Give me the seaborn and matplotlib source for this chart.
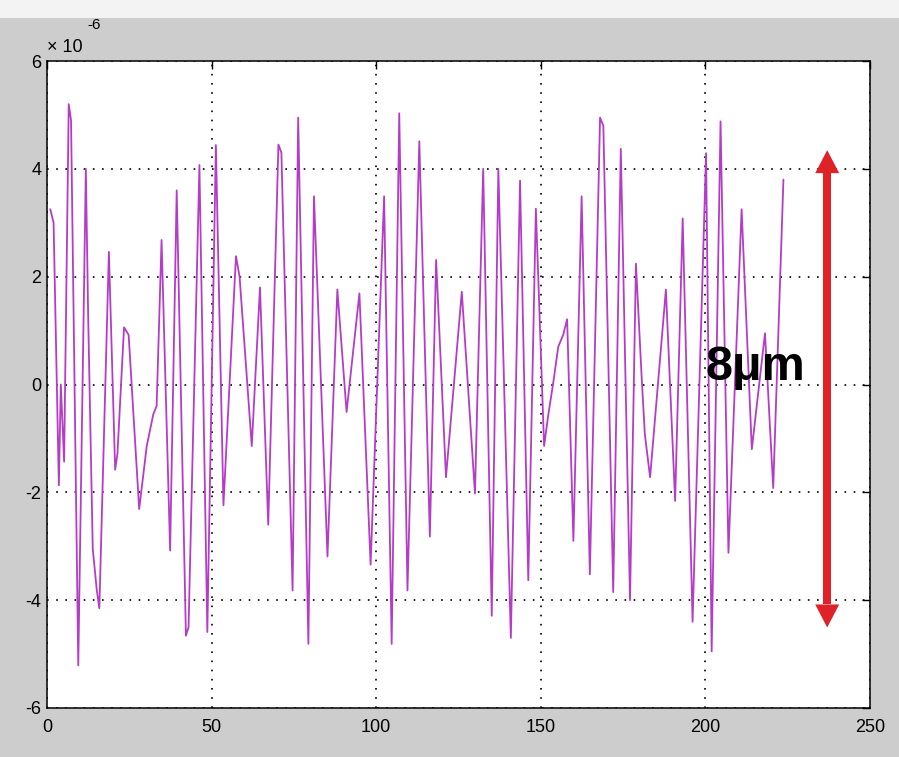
import matplotlib
matplotlib.use("Agg")
import matplotlib.pyplot as plt
from matplotlib.patches import Polygon, Rectangle
import pandas as pd
import seaborn as sns

# Surface displacement trace (units of 1e-6) along the sample index
sample_pos = [
    1.0, 2.0, 3.6, 4.2, 5.2, 6.6, 7.3, 9.5, 11.8, 12.5, 13.9, 15.1, 15.9,
    18.8, 20.7, 21.4, 23.4, 24.8, 28.0, 29.3, 30.3, 32.3, 33.3, 34.8,
    37.4, 39.4, 42.2, 43.0, 46.3, 48.7, 51.3, 53.6, 57.4, 58.5, 62.2,
    64.7, 67.2, 70.3, 71.2, 74.6, 76.3, 79.4, 81.1, 85.2, 88.2, 91.0,
    94.9, 98.3, 102.4, 104.7, 107.0, 109.5, 113.1, 116.3, 118.2, 121.2,
    126.0, 130.0, 132.5, 135.1, 137.1, 140.9, 143.7, 146.2, 148.5, 151.0,
    152.3, 153.8, 155.3, 156.8, 158.0, 159.9, 162.4, 164.9, 168.0, 169.0,
    172.0, 174.3, 177.1, 178.9, 180.6, 181.6, 183.2, 188.0, 190.8, 193.1,
    196.1, 200.2, 201.9, 204.6, 207.0, 211.0, 214.1, 218.1, 220.6, 223.7,
]
displacement_um = [
    3.25, 3.0, -1.87, 0.0, -1.43, 5.2, 4.9, -5.21, 4.0, 1.28, -3.05, -3.8, -4.15,
    2.46, -1.58, -1.28, 1.06, 0.92, -2.31, -1.65, -1.14, -0.55, -0.4, 2.68,
    -3.08, 3.6, -4.66, -4.5, 4.07, -4.59, 4.44, -2.24, 2.38, 2.0, -1.14,
    1.8, -2.6, 4.45, 4.3, -3.82, 4.95, -4.81, 3.49, -3.19, 1.76, -0.51,
    1.69, -3.34, 3.49, -4.81, 5.03, -3.82, 4.51, -2.82, 2.31, -1.72,
    1.72, -2.02, 4.0, -4.29, 4.0, -4.7, 3.78, -3.63, 3.26, -1.14,
    -0.55, 0.04, 0.7, 0.92, 1.21, -2.9, 3.49, -3.52, 4.95, 4.8,
    -3.85, 4.37, -4.0, 2.24, 0.18, -0.92, -1.72, 1.76, -2.16, 3.08,
    -4.4, 4.29, -4.95, 4.88, -3.12, 3.25, -1.2, 0.95, -1.92, 3.8,
]

x_ticks = [0, 50, 100, 150, 200, 250]
y_ticks = [-6, -4, -2, 0, 2, 4, 6]

# Peak-to-peak span marker
span_label = "8\u03bcm"
span_um = 8.0
span_centre = -0.08
span_x = 237

sns.set_theme(style="white")
plt.rcParams["font.family"] = ["Liberation Sans", "DejaVu Sans"]

W, H = 899, 757
fig = plt.figure(figsize=(W / 100, H / 100), dpi=100, facecolor="#cdcdcd")
fig.add_artist(Rectangle((0, 1 - 18 / H), 1, 18 / H, transform=fig.transFigure,
                         facecolor="#f3f3f3", edgecolor="none", zorder=0))

ax = fig.add_axes([47 / W, 49 / H, 823 / W, 647 / H])
ax.set_facecolor("white")

df = pd.DataFrame({"pos": sample_pos, "disp": displacement_um})
sns.lineplot(data=df, x="pos", y="disp", sort=False, estimator=None,
             color="#b43cc8", linewidth=1.3, ax=ax, zorder=3)

ax.set_xlim(0, 250)
ax.set_ylim(-6, 6)
ax.set_xticks(x_ticks)
ax.set_yticks(y_ticks)
ax.set_xticklabels([str(t) for t in x_ticks])
ax.set_yticklabels([str(t) for t in y_ticks])
ax.set_xlabel("")
ax.set_ylabel("")

ax.grid(True, color="black", linestyle=(0, (1, 4.5)), linewidth=1.2, zorder=1)
ax.tick_params(direction="in", length=6, width=1, top=True, right=True,
               labelsize=13, colors="black")
ax.tick_params(axis="x", pad=8)
ax.tick_params(axis="y", pad=4)
for s in ax.spines.values():
    s.set_visible(True)
    s.set_color("black")
    s.set_linewidth(1.1)

# Exponent marker for the y axis
ax.text(0.0, 1.014, "\u00d7 10", transform=ax.transAxes, fontsize=13,
        ha="left", va="baseline", color="black")
ax.text(0.049, 1.049, "-6", transform=ax.transAxes, fontsize=11,
        ha="left", va="baseline", color="black")

# Double arrow: head bases at the span ends, sharp triangular heads beyond
arrow_red = "#de2228"
px_per_unit_y = ax.bbox.height / 12.0
px_per_unit_x = ax.bbox.width / 250.0
head_len = 23 / px_per_unit_y
head_half = 12 / px_per_unit_x
top_base = span_centre + span_um / 2
bottom_base = span_centre - span_um / 2

ax.plot([span_x, span_x], [bottom_base, top_base], color=arrow_red,
        linewidth=5.8, solid_capstyle="butt", zorder=4)
for base, tip in [(top_base, top_base + head_len),
                  (bottom_base, bottom_base - head_len)]:
    ax.add_patch(Polygon([(span_x - head_half, base), (span_x + head_half, base),
                          (span_x, tip)], closed=True, facecolor=arrow_red,
                         edgecolor="none", zorder=4))

ax.text(200, 0.08, span_label, fontsize=35, fontweight="bold",
        ha="left", va="baseline", color="black", zorder=5)

fig.savefig("out.png", dpi=100, facecolor=fig.get_facecolor())
